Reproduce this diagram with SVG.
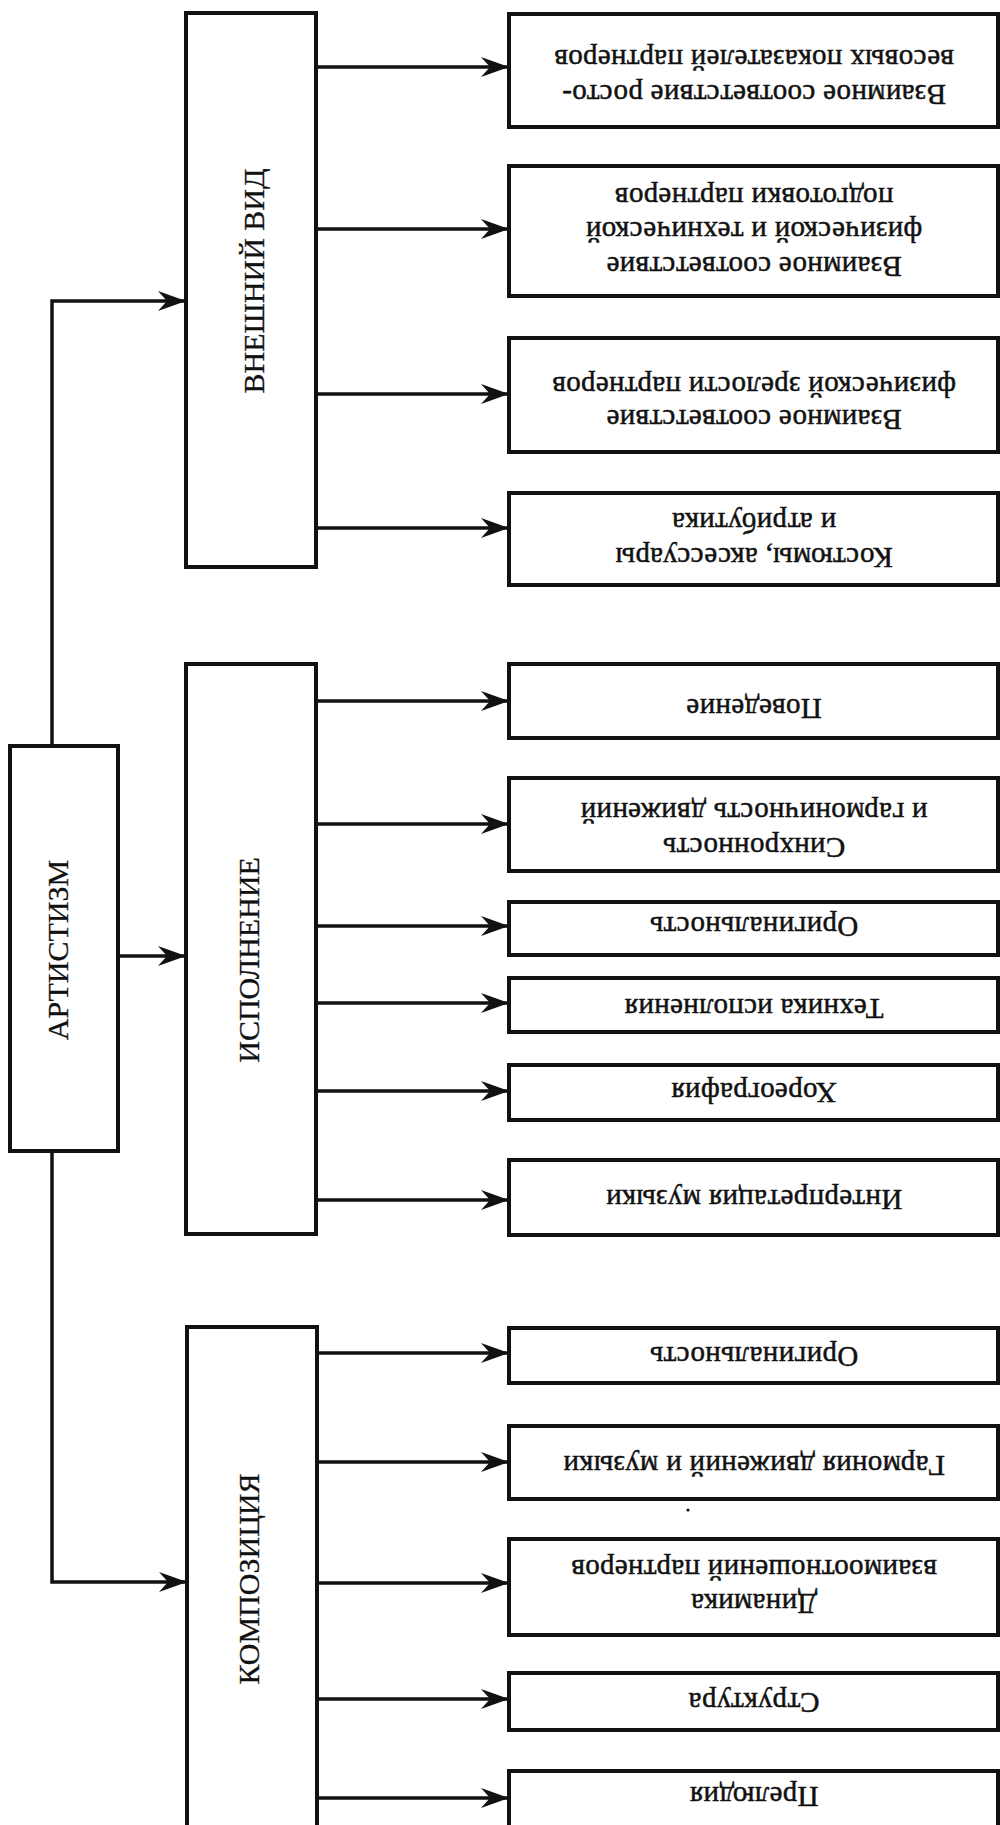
<svg xmlns="http://www.w3.org/2000/svg" width="1000" height="1825" viewBox="0 0 1000 1825">
<style>
.box{fill:#fff;stroke:#111;stroke-width:4}
.con{fill:none;stroke:#111;stroke-width:3.5}
.vt{font-family:"Liberation Serif","Times New Roman",serif;font-size:30px;fill:#111;text-anchor:middle;stroke:#111;stroke-width:0.3}
.rt{font-family:"Liberation Serif","Times New Roman",serif;font-size:29px;fill:#111;text-anchor:middle;letter-spacing:0.3px;stroke:#111;stroke-width:0.5}
</style>
<defs>
<marker id="ah" markerWidth="30" markerHeight="24" viewBox="-30 -12 30 24" refX="0" refY="0" orient="auto" markerUnits="userSpaceOnUse">
<path d="M0,0 L-28,-10 L-19,0 L-28,10 Z" fill="#111"/>
</marker>
</defs>
<rect width="1000" height="1825" fill="#fff"/>

<g id="connectors">
<path class="con" d="M52,746 V301 H186" marker-end="url(#ah)"/>
<path class="con" d="M118,956 H186" marker-end="url(#ah)"/>
<path class="con" d="M52,1151 V1582 H187" marker-end="url(#ah)"/>
<path class="con" d="M316,67 H509" marker-end="url(#ah)"/>
<path class="con" d="M316,229 H509" marker-end="url(#ah)"/>
<path class="con" d="M316,394 H509" marker-end="url(#ah)"/>
<path class="con" d="M316,528 H509" marker-end="url(#ah)"/>
<path class="con" d="M316,701 H509" marker-end="url(#ah)"/>
<path class="con" d="M316,824 H509" marker-end="url(#ah)"/>
<path class="con" d="M316,926 H509" marker-end="url(#ah)"/>
<path class="con" d="M316,1003 H509" marker-end="url(#ah)"/>
<path class="con" d="M316,1091 H509" marker-end="url(#ah)"/>
<path class="con" d="M316,1200 H509" marker-end="url(#ah)"/>
<path class="con" d="M317,1353 H509" marker-end="url(#ah)"/>
<path class="con" d="M317,1462 H509" marker-end="url(#ah)"/>
<path class="con" d="M317,1583 H509" marker-end="url(#ah)"/>
<path class="con" d="M317,1699 H509" marker-end="url(#ah)"/>
<path class="con" d="M317,1798 H509" marker-end="url(#ah)"/>
</g>

<g id="artistizm">
<rect class="box" x="10" y="746" width="108" height="405"/>
<text class="vt" transform="translate(68,950) rotate(-90)">АРТИСТИЗМ</text>
</g>

<g id="vneshniy-vid">
<rect class="box" x="186" y="13" width="130" height="554"/>
<text class="vt" transform="translate(264,281) rotate(-90)">ВНЕШНИЙ ВИД</text>
</g>

<g id="ispolnenie">
<rect class="box" x="186" y="664" width="130" height="570"/>
<text class="vt" transform="translate(259,960) rotate(-90)">ИСПОЛНЕНИЕ</text>
</g>

<g id="kompoziciya">
<rect class="box" x="187" y="1327" width="130" height="510"/>
<text class="vt" transform="translate(259,1579) rotate(-90)">КОМПОЗИЦИЯ</text>
</g>

<g id="v1">
<rect class="box" x="509" y="14" width="489" height="113"/>
<text class="rt" x="754" y="105" transform="rotate(180 754 95)">Взаимное соответствие росто-</text>
<text class="rt" x="754" y="70" transform="rotate(180 754 60)">весовых показателей партнеров</text>
</g>
<g id="v2">
<rect class="box" x="509" y="166" width="489" height="130"/>
<text class="rt" x="754" y="277" transform="rotate(180 754 267)">Взаимное соответствие</text>
<text class="rt" x="754" y="242" transform="rotate(180 754 232)">физической и технической</text>
<text class="rt" x="754" y="208" transform="rotate(180 754 198)">подготовки партнеров</text>
</g>
<g id="v3">
<rect class="box" x="509" y="338" width="489" height="114"/>
<text class="rt" x="754" y="430" transform="rotate(180 754 420)">Взаимное соответствие</text>
<text class="rt" x="754" y="397" transform="rotate(180 754 387)">физической зрелости партнеров</text>
</g>
<g id="v4">
<rect class="box" x="509" y="493" width="489" height="92"/>
<text class="rt" x="754" y="568" transform="rotate(180 754 558)">Костюмы, аксессуары</text>
<text class="rt" x="754" y="533" transform="rotate(180 754 523)">и атрибутика</text>
</g>

<g id="i1">
<rect class="box" x="509" y="664" width="489" height="74"/>
<text class="rt" x="754" y="719" transform="rotate(180 754 709)">Поведение</text>
</g>
<g id="i2">
<rect class="box" x="509" y="778" width="489" height="93"/>
<text class="rt" x="754" y="858" transform="rotate(180 754 848)">Синхронность</text>
<text class="rt" x="754" y="823" transform="rotate(180 754 813)">и гармоничность движений</text>
</g>
<g id="i3">
<rect class="box" x="509" y="902" width="489" height="53"/>
<text class="rt" x="754" y="937" transform="rotate(180 754 927)">Оригинальность</text>
</g>
<g id="i4">
<rect class="box" x="509" y="978" width="489" height="54"/>
<text class="rt" x="754" y="1019" transform="rotate(180 754 1009)">Техника исполнения</text>
</g>
<g id="i5">
<rect class="box" x="509" y="1065" width="489" height="55"/>
<text class="rt" x="754" y="1103" transform="rotate(180 754 1093)">Хореография</text>
</g>
<g id="i6">
<rect class="box" x="509" y="1160" width="489" height="75"/>
<text class="rt" x="754" y="1210" transform="rotate(180 754 1200)">Интерпретация музыки</text>
</g>

<g id="k1">
<rect class="box" x="509" y="1328" width="489" height="55"/>
<text class="rt" x="754" y="1367" transform="rotate(180 754 1357)">Оригинальность</text>
</g>
<g id="k2">
<rect class="box" x="509" y="1426" width="489" height="73"/>
<text class="rt" x="754" y="1476" transform="rotate(180 754 1466)">Гармония движений и музыки</text>
</g>
<g id="k3">
<rect class="box" x="509" y="1539" width="489" height="96"/>
<text class="rt" x="754" y="1614" transform="rotate(180 754 1604)">Динамика</text>
<text class="rt" x="754" y="1580" transform="rotate(180 754 1570)">взаимоотношений партнеров</text>
</g>
<g id="k4">
<rect class="box" x="509" y="1673" width="489" height="57"/>
<text class="rt" x="754" y="1713" transform="rotate(180 754 1703)">Структура</text>
</g>
<g id="k5">
<rect class="box" x="509" y="1771" width="489" height="65"/>
<text class="rt" x="754" y="1807" transform="rotate(180 754 1797)">Прелюдия</text>
</g>

<circle cx="688" cy="1510" r="1.6" fill="#111"/>
</svg>
